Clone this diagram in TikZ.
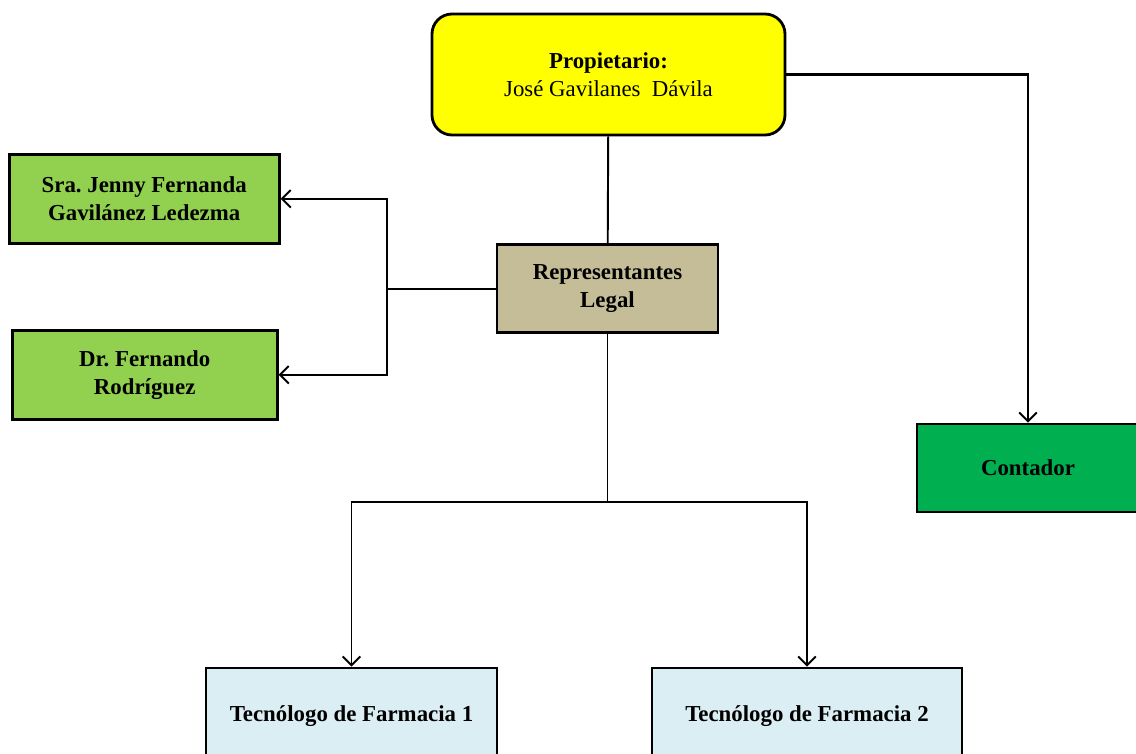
\documentclass[tikz,border=0pt]{standalone}
\usepackage{fontspec}
\setmainfont{Liberation Serif}
\usepackage{tikz}
\usetikzlibrary{positioning,arrows.meta}
\definecolor{ownerfill}{RGB}{255,255,0}
\definecolor{memberfill}{RGB}{146,208,80}
\definecolor{legalfill}{RGB}{196,189,151}
\definecolor{accountfill}{RGB}{0,176,80}
\definecolor{stafffill}{RGB}{218,238,243}
\frenchspacing
\tikzset{
  % Specifications for style of nodes:
  base/.style = {
    rectangle,
    draw=black,
    line width=1.6pt,
    align=center,
    font=\fontsize{13}{15.9}\selectfont\bfseries
  },
  owner/.style = {
    base,
    rounded corners=0.4cm,
    minimum width=7.06cm,
    minimum height=2.42cm,
    fill=ownerfill
  },
  legal/.style = {
    base,
    minimum width=4.42cm,
    minimum height=1.76cm,
    fill=legalfill
  },
  member/.style = {
    base,
    minimum width=5.4cm,
    minimum height=1.78cm,
    fill=memberfill
  },
  account/.style = {
    base,
    minimum width=4.44cm,
    minimum height=1.76cm,
    fill=accountfill
  },
  staff/.style = {
    base,
    minimum height=1.92cm,
    fill=stafffill
  },
  link/.style = {
    draw=black,
    line width=1.1pt
  },
  arrow/.style = {
    link,
    -{Straight Barb[length=5pt,width=10pt,line width=1.1pt]}
  },
}

\begin{document}
\begin{tikzpicture}
    \useasboundingbox (0,0) rectangle (22.72,-15.08);
    \begin{scope}
    \clip (0,0) rectangle (22.72,-15.08);
    % Specification of nodes (position, etc.)
    \node[owner] at (12.17,-1.49)                                      (owner)    {Propietario:\\\mdseries José Gavilanes\ \ Dávila};
    \node[legal, below=2.14cm of owner, xshift=-0.02cm]                (legal)    {Representantes\\Legal};
    \node[member, left=4.34cm of legal, yshift=1.8cm, xshift=0.04cm]   (jenny)    {Sra. Jenny Fernanda\\Gavilánez Ledezma};
    \node[member, minimum width=5.3cm, left=4.34cm of legal, yshift=-1.72cm] (fernando) {Dr. Fernando\\Rodríguez};
    \node[account] at (20.56,-9.36)                                    (contador) {Contador};
    \node[staff, minimum width=5.82cm] at (7.03,-14.32)                (tec1)     {Tecnólogo de Farmacia 1};
    \node[staff, minimum width=6.2cm] at (16.14,-14.32)                (tec2)     {Tecnólogo de Farmacia 2};
    % Connectors
    \coordinate[left=2.18cm of legal.west]   (split);
    \coordinate[below=3.36cm of legal.south] (fork);
    \draw[link] (owner) -- (legal);
    \draw[arrow, line width=1.3pt] (owner.east) -| (contador.north);
    \draw[link] (legal.west) -- (split);
    \draw[arrow] (split) |- (jenny.east);
    \draw[arrow] (split) |- (fernando.east);
    \draw[link] (legal.south) -- (fork);
    \draw[arrow] (fork) -| (tec1.north);
    \draw[arrow] (fork) -| (tec2.north);
    \end{scope}
  \end{tikzpicture}
\end{document}
